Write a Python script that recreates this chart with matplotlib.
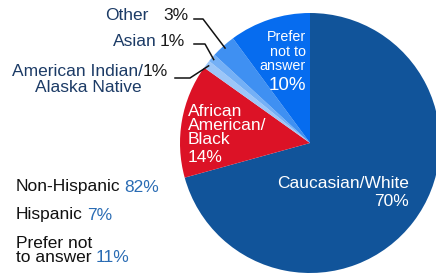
import numpy as np
import matplotlib.pyplot as plt

plt.rcParams['font.family'] = ['Liberation Sans', 'DejaVu Sans']

# race / ethnicity shares (percent)
races = ["Caucasian/White", "African American/Black", "American Indian/Alaska Native",
         "Asian", "Other", "Prefer not to answer"]
race_pct = [70, 14, 1, 1, 3, 10]
race_colors = ["#11549a", "#dc1226", "#9cc6f8", "#74b0f6", "#3f90f2", "#066cef"]

ethnicity = ["Non-Hispanic", "Hispanic", "Prefer not\nto answer"]
eth_pct = [82, 7, 11]

W, H = 436, 274
fig = plt.figure(figsize=(W / 100, H / 100), dpi=100)
fig.patch.set_facecolor("white")


def fx(x):
    return x / W


def fy(y):
    return 1 - y / H


# pie box: centre (310, 143) px, radius 130 px
cx, cy, r = 310, 143, 130
ax = fig.add_axes([fx(cx - r), fy(cy + r), 2 * r / W, 2 * r / H])
wedges, _ = ax.pie(race_pct, colors=race_colors, startangle=90, counterclock=False,
                   radius=1, wedgeprops=dict(linewidth=0))
ax.set_xlim(-1, 1)
ax.set_ylim(-1, 1)
ax.set_aspect("auto")
ax.axis("off")

white = dict(color="white", transform=fig.transFigure)

# Caucasian/White
fig.text(fx(409), fy(183), "Caucasian/White", ha="right", va="center", fontsize=12.5, **white)
fig.text(fx(409), fy(202), f"{race_pct[0]}%", ha="right", va="center", fontsize=12.5, **white)

# African American/Black
for i, line in enumerate(["African", "American/", "Black"]):
    fig.text(fx(188), fy(112 + 14 * i), line, ha="left", va="center", fontsize=12.5, **white)
fig.text(fx(188), fy(157), f"{race_pct[1]}%", ha="left", va="center", fontsize=12.5, **white)

# Prefer not to answer
for i, line in enumerate(["Prefer", "not to", "answer"]):
    fig.text(fx(306), fy(37 + 14.5 * i), line, ha="right", va="center", fontsize=10.3, **white)
fig.text(fx(306), fy(85), f"{race_pct[5]}%", ha="right", va="center", fontsize=13.5, **white)

# small slices: outside labels with elbow leaders
navy = "#1c3b66"
dark = "#1a1a1a"
small = [
    # slice idx, name, name right x, pct x, text y, line start x, elbow x
    (4, "Other", 148, 163, 16, 194, 203),
    (3, "Asian", 157, 160, 41, 194, 205),
    (2, "American Indian/", 143, 143, 72, 175, 190),
]
for idx, name, nx, pxx, ty, lx0, lx1 in small:
    w = wedges[idx]
    mid = np.deg2rad((w.theta1 + w.theta2) / 2)
    ex = cx + 0.98 * r * np.cos(mid)
    ey = cy - 0.98 * r * np.sin(mid)
    fig.text(fx(nx), fy(ty), name, ha="right", va="center", fontsize=12.5, color=navy)
    fig.text(fx(pxx), fy(ty), f"{race_pct[idx]}%", ha="left", va="center", fontsize=12.5,
             color=dark)
    ly = ty + 3 if idx != 2 else ty + 6
    fig.add_artist(plt.Line2D([fx(lx0), fx(lx1), fx(ex)], [fy(ly), fy(ly), fy(ey)],
                              color="#111111", lw=1.1, transform=fig.transFigure))
fig.text(fx(142), fy(88), "Alaska Native", ha="right", va="center", fontsize=12.5, color=navy)

# ethnicity block
blue = "#2a6cb4"
eth_y = [187, 215, 243]
for name, pct, y in zip(ethnicity, eth_pct, eth_y):
    lines = name.split("\n")
    for j, ln in enumerate(lines):
        t = fig.text(fx(16), fy(y + 15 * j), ln, ha="left", va="center", fontsize=12.5,
                     color="#111111")
    fig.canvas.draw()
    bb = t.get_window_extent()
    fig.text(bb.x1 / W + 4 / W, fy(y + 15 * (len(lines) - 1)), f"{pct}%", ha="left",
             va="center", fontsize=12.5, color=blue)

fig.savefig("out.png", dpi=100)
